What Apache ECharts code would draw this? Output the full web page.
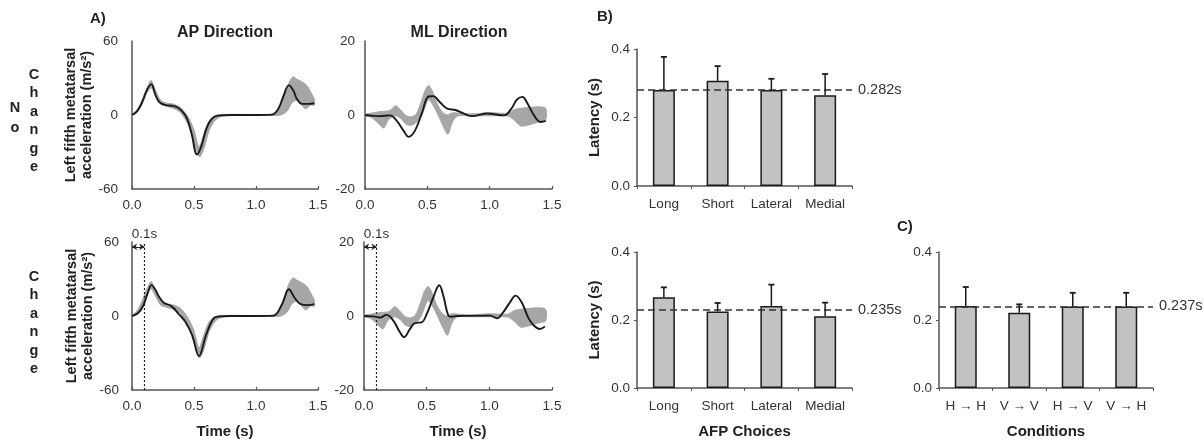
<!DOCTYPE html>
<html><head><meta charset="utf-8">
<script src="https://cdn.jsdelivr.net/npm/echarts@6/dist/echarts.min.js"></script>
<style>html,body{margin:0;padding:0;background:#fff}#c{width:1204px;height:440px}</style>
</head><body><div id="c"></div>
<script>
// ---------------- DATA ----------------
// Panel A: time (s) vs acceleration (m/s^2), [t, value] pairs
const apNoChangeMean = [[0,0],[0.04,3],[0.08,10],[0.12,20],[0.155,25],[0.19,16],[0.22,10.5],[0.27,8],[0.32,7.5],[0.36,6.5],[0.40,3.5],[0.44,-2],[0.48,-15],[0.525,-32],[0.56,-25],[0.60,-11],[0.64,-3.5],[0.69,-0.5],[0.80,0],[1.0,0],[1.13,0.3],[1.18,5],[1.22,15],[1.265,24],[1.30,20],[1.33,13],[1.37,9],[1.42,9],[1.47,9.5]];
const apChangeMean = [[0,0],[0.05,2.4],[0.09,8.3],[0.125,18],[0.158,25],[0.19,21],[0.213,16.4],[0.254,11],[0.32,7.8],[0.377,1.6],[0.43,-4.6],[0.486,-15.8],[0.54,-32.4],[0.596,-15.8],[0.65,-3],[0.69,-0.5],[0.8,0],[1.0,0],[1.14,0.3],[1.21,9.6],[1.265,21.7],[1.31,15],[1.36,9.6],[1.415,8.8],[1.47,9.6]];
const apBandUpper = [[0,0.5],[0.04,4],[0.08,12],[0.12,22],[0.155,28],[0.19,20],[0.23,12],[0.28,9.5],[0.33,9],[0.38,7],[0.42,3],[0.46,-3],[0.50,-12],[0.54,-26],[0.58,-15],[0.62,-5],[0.66,-1],[0.72,0.4],[1.0,0.4],[1.15,1],[1.19,6],[1.23,16],[1.27,27],[1.30,31],[1.33,29],[1.37,27],[1.41,24],[1.45,17],[1.47,13]];
const apBandLower = [[0,-0.5],[0.04,2],[0.08,8.5],[0.12,18],[0.155,22],[0.19,16],[0.23,9],[0.28,7],[0.33,5.5],[0.38,3],[0.42,-2],[0.46,-9],[0.50,-22],[0.545,-34],[0.58,-27],[0.62,-13],[0.66,-5.5],[0.70,-2],[0.75,-0.5],[1.0,-0.4],[1.15,-0.4],[1.2,0],[1.25,3],[1.29,10],[1.33,12],[1.37,8],[1.40,5],[1.44,8],[1.47,8]];

const mlNoChangeMean = [[0,0],[0.06,-0.2],[0.12,-0.3],[0.2,-0.1],[0.255,-1.6],[0.31,-4.3],[0.35,-5.9],[0.40,-4.3],[0.457,0.6],[0.51,5.0],[0.546,5.1],[0.605,3.3],[0.66,1.7],[0.726,1.35],[0.79,0.45],[0.86,-0.3],[0.98,0.4],[1.115,-0.1],[1.17,1.5],[1.22,4.2],[1.263,4.9],[1.30,3.3],[1.36,-0.3],[1.41,-1.9],[1.45,-1.6]];
const mlChangeMean = [[0,0],[0.074,-0.1],[0.128,-0.4],[0.18,0.3],[0.234,-1.25],[0.287,-4.4],[0.32,-5.7],[0.367,-3.5],[0.407,-1.9],[0.46,-1.7],[0.5,0.5],[0.553,5],[0.60,8.3],[0.633,5.5],[0.673,0.1],[0.70,-0.2],[0.74,0],[1.005,0.1],[1.06,-0.6],[1.11,1],[1.165,3.7],[1.21,5.5],[1.258,3.7],[1.31,-0.4],[1.35,-2.4],[1.404,-3.5],[1.444,-2.8]];
const mlBandUpper = [[0,0.2],[0.05,0.5],[0.1,0.8],[0.15,1.0],[0.2,1.2],[0.245,2.5],[0.29,1.2],[0.33,-0.2],[0.37,-0.5],[0.41,0.2],[0.45,3.5],[0.48,6.5],[0.51,8],[0.54,6.5],[0.58,3],[0.62,0.8],[0.66,0],[0.70,0.6],[0.75,0.5],[0.85,0.3],[1.0,0.6],[1.15,0.5],[1.2,1.5],[1.3,2],[1.4,2.2],[1.45,1.8]];
const mlBandLower = [[0,-0.2],[0.05,-0.6],[0.1,-2],[0.15,-3.5],[0.19,-1.2],[0.245,-0.2],[0.29,-1],[0.33,-2.5],[0.37,-2.8],[0.41,-2],[0.45,-0.5],[0.48,2],[0.51,4.2],[0.54,3],[0.58,0.5],[0.62,-2.5],[0.665,-5.2],[0.70,-2],[0.74,-0.3],[0.85,-0.2],[1.0,-0.2],[1.15,-0.3],[1.2,-1.5],[1.25,-3],[1.3,-2.8],[1.4,-1.8],[1.45,-1.3]];

const delayMark = 0.1;

// Panels B and C: latency (s)
const afpCategories = ['Long', 'Short', 'Lateral', 'Medial'];
const noChangeLatency = [0.280, 0.307, 0.280, 0.265];
const noChangeErrTop  = [0.377, 0.350, 0.313, 0.327];
const noChangeMeanLine = 0.282;
const changeLatency = [0.267, 0.225, 0.241, 0.211];
const changeErrTop  = [0.296, 0.250, 0.304, 0.251];
const changeMeanLine = 0.235;
const conditionCategories = ['H \u2192 H', 'V \u2192 V', 'H \u2192 V', 'V \u2192 H'];
const conditionLatency = [0.241, 0.221, 0.240, 0.240];
const conditionErrTop  = [0.297, 0.246, 0.280, 0.280];
const conditionMeanLine = 0.237;

// ---------------- CHART ----------------
const FONT = "'Liberation Sans', Arial, sans-serif";
const AX = '#555';
const TXT = '#333';
const chart = echarts.init(document.getElementById('c'), null, {renderer: 'canvas'});

const grids = [
  {left: 132, top: 41, width: 186, height: 148},
  {left: 365, top: 41, width: 187, height: 148},
  {left: 132, top: 242, width: 186, height: 149},
  {left: 364, top: 242, width: 188, height: 149},
  {left: 637, top: 49, width: 215, height: 137},
  {left: 637, top: 252, width: 215, height: 138},
  {left: 939, top: 252, width: 214, height: 138}
];

function timeAxis(gi, withName) {
  return {
    type: 'value', gridIndex: gi, min: 0, max: 1.5, interval: 0.5,
    axisLine: {show: true, onZero: false, lineStyle: {color: AX, width: 1.5}},
    axisTick: {show: true, inside: true, length: 3, lineStyle: {color: AX, width: 1.2}},
    axisLabel: {formatter: v => v.toFixed(1), fontSize: 13.5, color: TXT, margin: 9, fontFamily: FONT},
    splitLine: {show: false},
    name: withName ? 'Time (s)' : '', nameLocation: 'middle', nameGap: 34,
    nameTextStyle: {fontSize: 15, fontWeight: 'bold', color: '#222', fontFamily: FONT}
  };
}
function accAxis(gi, lim, withName, margin) {
  return {
    type: 'value', gridIndex: gi, min: -lim, max: lim, interval: lim,
    axisLine: {show: true, onZero: false, lineStyle: {color: AX, width: 1.5}},
    axisTick: {show: false},
    axisLabel: {fontSize: 13.5, color: TXT, margin: margin, fontFamily: FONT},
    splitLine: {show: false},
    name: withName ? 'Left fifth metatarsal\nacceleration (m/s\u00B2)' : '',
    nameLocation: 'middle', nameGap: 34,
    nameTextStyle: {fontSize: 14.5, fontWeight: 'bold', color: '#222', lineHeight: 16, fontFamily: FONT}
  };
}
function catAxis(gi, cats, name) {
  return {
    type: 'category', gridIndex: gi, data: cats,
    axisLine: {show: true, onZero: false, lineStyle: {color: AX, width: 1.5}},
    axisTick: {show: true, length: 3, lineStyle: {color: AX}},
    axisLabel: {fontSize: 13.5, color: TXT, margin: 11, fontFamily: FONT},
    name: name, nameLocation: 'middle', nameGap: 36,
    nameTextStyle: {fontSize: 15, fontWeight: 'bold', color: '#222', fontFamily: FONT}
  };
}
function latAxis(gi, withName) {
  return {
    type: 'value', gridIndex: gi, min: 0, max: 0.4, interval: 0.2,
    axisLine: {show: true, lineStyle: {color: AX, width: 1.5}},
    axisTick: {show: true, length: 3, lineStyle: {color: AX}},
    axisLabel: {formatter: v => v.toFixed(1), fontSize: 13.5, color: TXT, margin: 7, fontFamily: FONT},
    splitLine: {show: false},
    name: withName ? 'Latency (s)' : '', nameLocation: 'middle', nameGap: 35,
    nameTextStyle: {fontSize: 15, fontWeight: 'bold', color: '#222', fontFamily: FONT}
  };
}

function bandSeries(i, upper, lower) {
  return {
    type: 'custom', xAxisIndex: i, yAxisIndex: i, data: [[0, 0]], silent: true, z: 1,
    renderItem: (params, api) => {
      const pts = upper.map(p => api.coord(p)).concat(lower.slice().reverse().map(p => api.coord(p)));
      return {type: 'polygon', shape: {points: pts, smooth: 0.25},
        style: {fill: '#a6a6a6', stroke: '#a6a6a6', lineWidth: 1}};
    }
  };
}
function meanSeries(i, data, extras) {
  const s = {
    type: 'line', xAxisIndex: i, yAxisIndex: i, data: data, smooth: 0.4,
    showSymbol: false, silent: true, z: 3,
    lineStyle: {color: '#1a1a1a', width: 1.9}
  };
  return Object.assign(s, extras || {});
}
function delayMarks(lim) {
  const y = lim * 0.935;
  return {
    markLine: {
      silent: true, symbol: ['none', 'none'], animation: false,
      label: {show: false},
      data: [
        {xAxis: delayMark, lineStyle: {type: [2, 2], color: '#222', width: 1.2}},
        [{coord: [0, y], symbol: 'arrow', symbolSize: 5, lineStyle: {type: 'solid', color: '#222', width: 1}},
         {coord: [delayMark, y], symbol: 'arrow', symbolSize: 5}]
      ]
    },
    markPoint: {
      silent: true, symbol: 'circle', symbolSize: 1, itemStyle: {color: 'rgba(0,0,0,0)'},
      data: [{coord: [delayMark, lim], label: {show: true, position: 'top', distance: 0,
        formatter: delayMark + 's', fontSize: 13.5, color: TXT, fontFamily: FONT}}]
    }
  };
}
function barSeries(i, values, meanLine) {
  return {
    type: 'bar', xAxisIndex: i, yAxisIndex: i, data: values, barWidth: 22, silent: true, z: 2,
    itemStyle: {color: '#c2c2c2', borderColor: '#1a1a1a', borderWidth: 1.5},
    markLine: {
      silent: true, symbol: ['none', 'none'], animation: false,
      lineStyle: {type: [7, 4], color: '#333', width: 1.5},
      label: {position: 'end', distance: 6, formatter: meanLine.toFixed(3) + 's', fontSize: 14.5, color: TXT, fontFamily: FONT},
      data: [{yAxis: meanLine}]
    }
  };
}
function errSeries(i, means, tops) {
  return {
    type: 'custom', xAxisIndex: i, yAxisIndex: i, silent: true, z: 6,
    data: means.map((m, k) => [k, m, tops[k]]),
    encode: {x: 0, y: [1, 2]},
    renderItem: (params, api) => {
      const a = api.coord([api.value(0), api.value(1)]);
      const b = api.coord([api.value(0), api.value(2)]);
      return {type: 'group', children: [
        {type: 'line', shape: {x1: a[0], y1: a[1], x2: b[0], y2: b[1]}, style: {stroke: '#1a1a1a', lineWidth: 1.5}},
        {type: 'line', shape: {x1: b[0] - 3, y1: b[1], x2: b[0] + 3, y2: b[1]}, style: {stroke: '#1a1a1a', lineWidth: 1.8}}
      ]};
    }
  };
}

function txt(text, x, y, size, bold, align, extra) {
  return Object.assign({type: 'text', x: x, y: y, silent: true,
    style: {text: text, font: (bold ? 'bold ' : '') + size + 'px ' + FONT, fill: '#222',
      textAlign: align || 'center', textVerticalAlign: 'middle'}}, extra || {});
}
function vertical(word, x, yTop, step) {
  return word.split('').map((ch, k) => txt(ch, x, yTop + k * step, 14.5, true));
}

const graphics = [
  txt('A)', 90, 19, 15, true, 'left'),
  txt('AP Direction', 225, 33, 16, true),
  txt('ML Direction', 459, 33, 16, true),
  txt('B)', 597, 17, 15, true, 'left'),
  txt('C)', 897, 227, 15, true, 'left')
].concat(vertical('No', 15, 108, 20))
 .concat(vertical('Change', 34, 75, 18.4))
 .concat(vertical('Change', 34, 277, 18.4));

const option = {
  animation: false,
  backgroundColor: '#fff',
  textStyle: {fontFamily: FONT},
  grid: grids,
  xAxis: [
    timeAxis(0, false), timeAxis(1, false), timeAxis(2, true), timeAxis(3, true),
    catAxis(4, afpCategories, ''), catAxis(5, afpCategories, 'AFP Choices'), catAxis(6, conditionCategories, 'Conditions')
  ],
  yAxis: [
    accAxis(0, 60, true, 14), accAxis(1, 20, false, 10), accAxis(2, 60, true, 13), accAxis(3, 20, false, 10),
    latAxis(4, true), latAxis(5, true), latAxis(6, false)
  ],
  series: [
    bandSeries(0, apBandUpper, apBandLower), meanSeries(0, apNoChangeMean),
    bandSeries(1, mlBandUpper, mlBandLower), meanSeries(1, mlNoChangeMean),
    bandSeries(2, apBandUpper, apBandLower), meanSeries(2, apChangeMean, delayMarks(60)),
    bandSeries(3, mlBandUpper, mlBandLower), meanSeries(3, mlChangeMean, delayMarks(20)),
    barSeries(4, noChangeLatency, noChangeMeanLine), errSeries(4, noChangeLatency, noChangeErrTop),
    barSeries(5, changeLatency, changeMeanLine), errSeries(5, changeLatency, changeErrTop),
    barSeries(6, conditionLatency, conditionMeanLine), errSeries(6, conditionLatency, conditionErrTop)
  ],
  graphic: graphics
};
chart.setOption(option);
</script>
</body></html>
